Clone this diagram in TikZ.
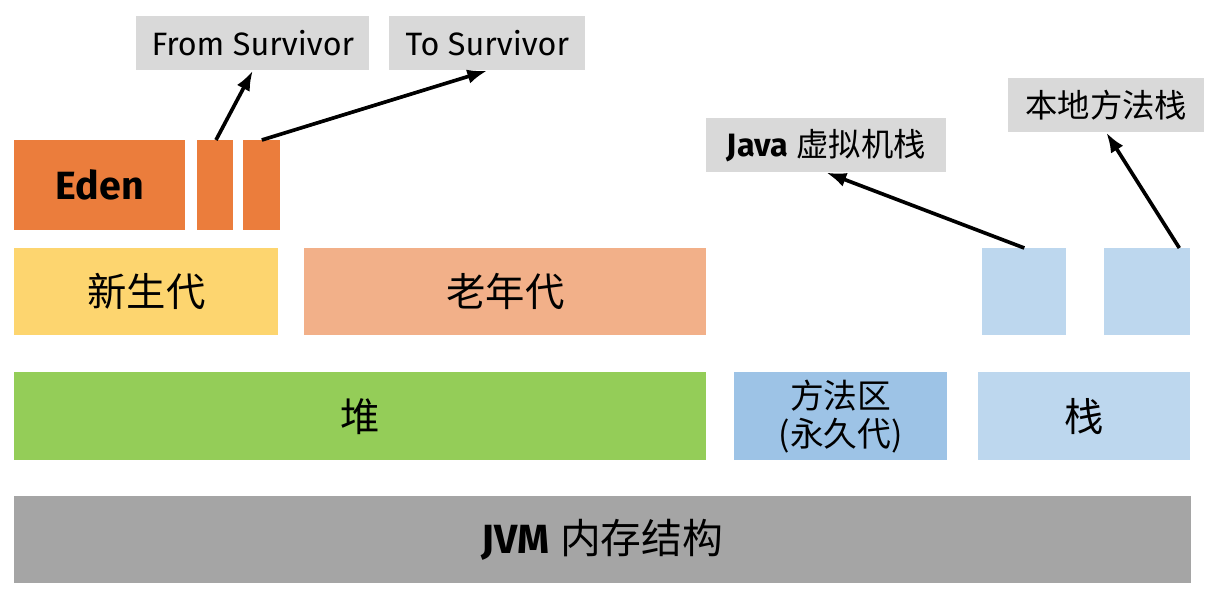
\documentclass[tikz,border=0pt]{standalone}
\usepackage{fontspec}
\setmainfont{Fira Sans}
\newfontfamily\cjk{Noto Sans CJK SC}
\usetikzlibrary{positioning,arrows.meta}

\definecolor{edenc}{HTML}{EB7D3C}
\definecolor{youngc}{HTML}{FDD56F}
\definecolor{oldc}{HTML}{F2B089}
\definecolor{heapc}{HTML}{94CD58}
\definecolor{methodc}{HTML}{9DC3E6}
\definecolor{stackc}{HTML}{BDD7EE}
\definecolor{jvmc}{HTML}{A5A5A5}
\definecolor{tagc}{HTML}{D9D9D9}

\tikzset{
  blk/.style = {shape = rectangle, inner sep = 0pt, anchor = north west, align = center},
  tag/.style = {blk, fill = tagc, minimum height = 1.35cm, font = \fontsize{23}{26}\selectfont},
  ptr/.style = {-{Latex[length = 0.5cm, width = 0.36cm]}, line width = 2.6pt}
}

\begin{document}
\begin{tikzpicture}[x = 0.025cm, y = -0.025cm]
\path[use as bounding box] (0,0) rectangle (1220,598);

% labels on top
\node[tag, minimum width = 5.825cm] (from) at (136,16) {From Survivor};
\node[tag, minimum width = 4.9cm] (to) at (389,16) {To Survivor};
\node[tag, minimum width = 6cm] (jstack) at (706,118) {{\bfseries Java} {\cjk 虚拟机栈}};
\node[tag, minimum width = 4.9cm] (nstack) at (1008,78) {\cjk 本地方法栈};

% young generation pieces
\node[blk, fill = edenc, minimum width = 4.275cm, minimum height = 2.25cm, font = \bfseries\fontsize{28}{32}\selectfont] (eden) at (14,140) {Eden};
\node[blk, fill = edenc, minimum width = 0.9cm, minimum height = 2.25cm] (s1) at (197,140) {};
\node[blk, fill = edenc, minimum width = 0.925cm, minimum height = 2.25cm] (s2) at (243,140) {};

% generations and stacks
\node[blk, fill = youngc, minimum width = 6.6cm, minimum height = 2.175cm, font = \cjk\fontsize{28}{32}\selectfont] (young) at (14,248) {新生代};
\node[blk, fill = oldc, minimum width = 10.05cm, minimum height = 2.175cm, font = \cjk\fontsize{28}{32}\selectfont] (old) at (304,248) {老年代};
\node[blk, fill = stackc, minimum width = 2.1cm, minimum height = 2.175cm] (t1) at (982,248) {};
\node[blk, fill = stackc, minimum width = 2.15cm, minimum height = 2.175cm] (t2) at (1104,248) {};

% memory areas
\node[blk, fill = heapc, minimum width = 17.3cm, minimum height = 2.2cm, font = \cjk\fontsize{28}{32}\selectfont] (heap) at (14,372) {堆};
\node[blk, fill = methodc, minimum width = 5.325cm, minimum height = 2.2cm, font = \cjk\fontsize{24}{27}\selectfont] (method) at (734,372) {方法区\\(永久代)};
\node[blk, fill = stackc, minimum width = 5.3cm, minimum height = 2.2cm, font = \cjk\fontsize{28}{32}\selectfont] (stack) at (978,372) {栈};

\node[blk, fill = jvmc, minimum width = 29.4cm, minimum height = 2.175cm, font = \fontsize{29}{33}\selectfont] (jvm) at (14,496) {{\bfseries JVM} {\cjk 内存结构}};

\draw[ptr] ([xshift = 0.5pt]s1.north) -- (from.south);
\draw[ptr] (s2.north) -- (to.south);
\draw[ptr] (t1.north) -- (jstack.south);
\draw[ptr] ([xshift = -8]t2.north east) -- (nstack.south);
\end{tikzpicture}
\end{document}
